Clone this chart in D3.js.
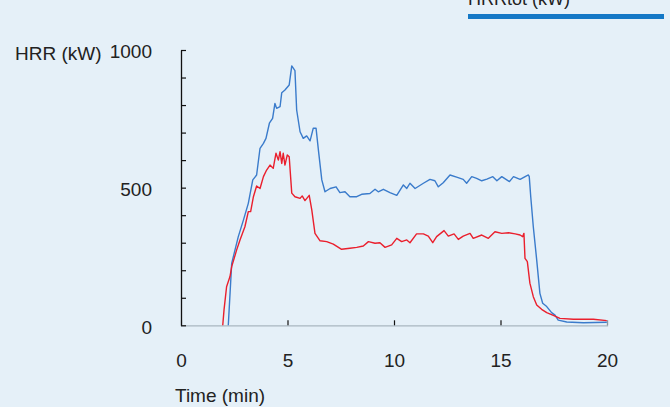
<!DOCTYPE html>
<html>
<head>
<meta charset="utf-8">
<script src="https://cdn.jsdelivr.net/npm/d3@7"></script>
<style>
  body { margin: 0; background: #e5f0f8; }
  svg { display: block; font-family: "Liberation Sans", Arial, sans-serif; }
</style>
</head>
<body>
<div id="chart"></div>
<script>
// data
var xTicks = [0, 5, 10, 15, 20];
var yLabelTicks = [0, 500, 1000];
var legendLabel = "HRRtot (kW)";

// blue series (total HRR)
var blueTime = [2.22, 2.38, 2.69, 2.93, 3.16, 3.37, 3.55, 3.71, 3.87, 3.99,
  4.15, 4.30, 4.41, 4.49, 4.65, 4.73, 4.88, 5.08, 5.20, 5.35,
  5.43, 5.59, 5.74, 5.90, 6.06, 6.21, 6.34, 6.45, 6.61, 6.76,
  7.00, 7.28, 7.46, 7.70, 7.93, 8.25, 8.48, 8.87, 9.11, 9.26,
  9.50, 9.81, 10.13, 10.44, 10.60, 10.75, 10.99, 11.38, 11.69, 11.92,
  12.08, 12.31, 12.63, 12.94, 13.25, 13.41, 13.65, 13.88, 14.12, 14.36,
  14.64, 14.83, 15.06, 15.42, 15.61, 15.92, 16.20, 16.31, 16.35, 16.42,
  16.54, 16.70, 16.85, 16.98, 17.17, 17.40, 17.56, 17.71, 18.11, 18.89, 19.99];
var blueHRR = [0, 225, 322, 382, 443, 528, 546, 643, 661, 679,
  734, 752, 806, 788, 794, 845, 855, 873, 942, 925,
  782, 703, 679, 688, 670, 716, 716, 637, 528, 485,
  497, 503, 482, 485, 467, 467, 476, 479, 494, 485,
  494, 482, 472, 510, 497, 516, 497, 516, 530, 525,
  503, 518, 546, 538, 530, 516, 540, 534, 525, 531,
  540, 525, 540, 522, 540, 530, 542, 546, 540, 467,
  358, 237, 116, 80, 68, 46, 37, 19, 12, 9, 11];

// red series
var redTime = [1.96, 2.02, 2.14, 2.30, 2.38, 2.61, 2.77, 3.00, 3.16, 3.27,
  3.40, 3.55, 3.71, 3.87, 4.02, 4.18, 4.33, 4.46, 4.57, 4.65,
  4.73, 4.80, 4.88, 4.99, 5.08, 5.20, 5.35, 5.59, 5.69, 5.82,
  6.02, 6.14, 6.29, 6.53, 6.84, 7.15, 7.54, 7.93, 8.25, 8.56,
  8.80, 9.11, 9.34, 9.58, 9.89, 10.13, 10.36, 10.60, 10.75, 11.06,
  11.38, 11.61, 11.82, 12.00, 12.35, 12.55, 12.82, 13.02, 13.25, 13.57,
  13.72, 14.12, 14.43, 14.74, 15.06, 15.38, 15.69, 15.92, 16.04, 16.10,
  16.15, 16.26, 16.38, 16.54, 16.70, 16.93, 17.17, 17.48, 17.79, 18.42,
  19.36, 19.99];
var redHRR = [0, 56, 140, 177, 213, 273, 310, 358, 413, 413,
  467, 506, 497, 540, 564, 582, 570, 625, 600, 631,
  588, 625, 582, 619, 612, 480, 467, 461, 470, 453,
  472, 419, 334, 307, 304, 295, 276, 280, 283, 288,
  304, 298, 300, 283, 292, 316, 304, 310, 300, 332,
  332, 324, 300, 322, 344, 324, 332, 312, 324, 334,
  316, 328, 316, 340, 334, 336, 332, 328, 322, 334,
  243, 231, 153, 104, 74, 58, 46, 36, 25, 22,
  22, 17];

var svgWidth = 670;
var svgHeight = 407;

var svg = d3.select("#chart")
  .append("svg")
  .attr("width", svgWidth)
  .attr("height", svgHeight);

svg.append("rect")
  .attr("width", svgWidth)
  .attr("height", svgHeight)
  .attr("fill", "#e5f0f8");

// scales
var x = d3.scaleLinear().domain([0, 20]).range([181, 607]);
var y = d3.scaleLinear().domain([0, 1000]).range([325.3, 50]);

// x axis baseline + inward ticks
var xAxis = svg.append("g")
  .attr("transform", "translate(0," + y(0) + ")")
  .call(d3.axisTop(x).tickValues(xTicks.slice(1)).tickSize(5).tickFormat(""));
xAxis.select(".domain").attr("stroke", "#a9b6c0").attr("stroke-width", 1.3);
xAxis.selectAll(".tick line").attr("stroke", "#111").attr("stroke-width", 1.2);
xAxis.selectAll(".tick line").filter(d => d === 20).attr("stroke", "#8a96a0");

// x tick labels
var xLabels = svg.append("g")
  .attr("transform", "translate(0," + y(0) + ")")
  .call(d3.axisBottom(x).tickValues(xTicks).tickSize(0).tickPadding(0));
xLabels.select(".domain").remove();
xLabels.selectAll("text")
  .attr("y", 42)
  .attr("dy", 0)
  .attr("font-size", "19px")
  .attr("font-family", "Liberation Sans, Arial, sans-serif")
  .attr("fill", "#222");

// y axis line + inward ticks every 100
var yAxis = svg.append("g")
  .attr("transform", "translate(" + x(0) + ",0)")
  .call(d3.axisRight(y).ticks(10).tickSize(5).tickSizeOuter(0).tickFormat(""));
yAxis.select(".domain").attr("stroke", "#111").attr("stroke-width", 1.3);
yAxis.selectAll(".tick line").attr("stroke", "#111").attr("stroke-width", 1.2);

// y tick labels
var yLabels = svg.append("g")
  .attr("transform", "translate(" + x(0) + ",0)")
  .call(d3.axisLeft(y).tickValues(yLabelTicks).tickFormat(d3.format("d")).tickSize(0).tickPadding(29));
yLabels.select(".domain").remove();
yLabels.selectAll("text")
  .attr("dy", "0.42em")
  .attr("font-size", "19px")
  .attr("font-family", "Liberation Sans, Arial, sans-serif")
  .attr("fill", "#222");

// axis titles
svg.append("text")
  .attr("x", 15)
  .attr("y", 60)
  .attr("font-size", "19px")
  .attr("fill", "#222")
  .text("HRR (kW)");

svg.append("text")
  .attr("x", 175)
  .attr("y", 402)
  .attr("font-size", "19px")
  .attr("fill", "#222")
  .text("Time (min)");

// series lines
var line = d3.line()
  .x(d => x(d[0]))
  .y(d => y(d[1]));

svg.append("path")
  .datum(d3.zip(blueTime, blueHRR))
  .attr("fill", "none")
  .attr("stroke", "#3a7bcb")
  .attr("stroke-width", 1.4)
  .attr("stroke-linejoin", "round")
  .attr("d", line);

svg.append("path")
  .datum(d3.zip(redTime, redHRR))
  .attr("fill", "none")
  .attr("stroke", "#ea1f2d")
  .attr("stroke-width", 1.4)
  .attr("stroke-linejoin", "round")
  .attr("d", line);

// legend (cut at top edge, as in the reference)
svg.append("text")
  .attr("x", 468)
  .attr("y", 5)
  .attr("font-size", "18px")
  .attr("fill", "#222")
  .text(legendLabel);

svg.append("line")
  .attr("x1", 468)
  .attr("x2", 664)
  .attr("y1", 16.5)
  .attr("y2", 16.5)
  .attr("stroke", "#1478c6")
  .attr("stroke-width", 5);
</script>
</body>
</html>
